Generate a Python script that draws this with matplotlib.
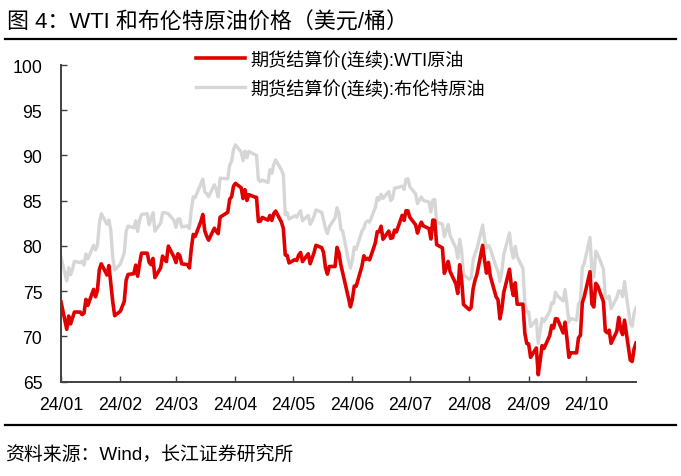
import pandas as pd
import matplotlib.pyplot as plt
import matplotlib.dates as mdates
from matplotlib.lines import Line2D

plt.rcParams['font.family'] = ['Liberation Sans', 'Noto Sans CJK SC', 'DejaVu Sans']

title = "图 4：WTI 和布伦特原油价格（美元/桶）"
source = "资料来源：Wind，长江证券研究所"
wti_label = "期货结算价(连续):WTI原油"
brent_label = "期货结算价(连续):布伦特原油"

# trading days 2024-01-05 .. 2024-10-31 (Good Friday closed)
dates = pd.bdate_range("2024-01-05", "2024-10-31")
dates = dates[dates != pd.Timestamp("2024-03-29")]

# one line per week, USD/bbl
wti = [
    73.81,
    70.77, 72.24, 71.37, 72.02, 72.68,
    72.68, 72.40, 72.56, 74.08, 73.41,
    75.19, 74.37, 75.09, 77.36, 78.01,
    76.78, 77.82, 75.85, 73.82, 72.28,
    72.78, 73.31, 73.86, 76.22, 76.84,
    76.92, 77.87, 76.64, 78.03, 79.19,
    79.19, 78.18, 77.91, 78.61, 76.49,
    77.58, 78.87, 78.54, 78.26, 79.97,
    78.74, 78.15, 79.13, 78.93, 78.01,
    77.93, 77.56, 79.72, 81.26, 81.04,
    82.72, 83.47, 81.68, 81.07, 80.63,
    81.95, 81.62, 81.35, 83.17,
    83.71, 85.15, 85.43, 86.59, 86.91,
    86.43, 85.23, 86.21, 85.02, 85.66,
    85.41, 85.36, 82.69, 82.73, 83.14,
    82.85, 83.36, 82.81, 83.57, 83.85,
    82.63, 81.93, 79.00, 78.95, 78.11,
    78.48, 78.38, 78.99, 79.26, 78.26,
    79.12, 78.02, 78.63, 79.23, 80.06,
    79.80, 79.26, 77.57, 76.87, 77.72,
    77.72, 79.83, 79.23, 77.91, 77.00,
    74.22, 73.25, 74.07, 75.55, 75.53,
    77.74, 78.90, 78.50, 78.62, 78.45,
    80.33, 81.57, 81.57, 82.17, 80.73,
    81.63, 80.83, 80.90, 81.74, 81.54,
    83.38, 82.81, 83.88, 83.88, 83.16,
    82.33, 81.41, 82.10, 82.62, 82.21,
    81.91, 80.76, 82.85, 82.82, 80.13,
    79.78, 76.96, 77.59, 78.28, 77.16,
    75.81, 74.73, 77.91, 76.31, 73.52,
    72.94, 73.20, 75.23, 76.19, 76.84,
    80.06, 78.35, 76.98, 78.16, 76.65,
    74.37, 74.04, 71.93, 73.01, 74.83,
    77.42, 75.53, 74.52, 75.91, 73.55,
    73.55, 70.34, 69.20, 69.15, 67.67,
    68.71, 65.75, 67.31, 68.97, 68.65,
    70.09, 71.19, 70.91, 71.95, 71.92,
    70.37, 71.56, 69.69, 67.67, 68.18,
    68.17, 69.83, 70.10, 73.71, 74.38,
    77.14, 73.57, 73.24, 75.85, 75.56,
    73.83, 70.58, 70.39, 70.67, 69.22,
    70.56, 72.09, 70.77, 70.19, 71.78,
    67.38, 67.21, 68.61, 69.26,
]

brent = [
    78.76,
    76.12, 77.59, 76.80, 77.41, 78.29,
    78.15, 78.29, 77.88, 79.10, 78.56,
    80.06, 79.55, 80.04, 82.43, 83.55,
    82.40, 82.87, 81.71, 78.70, 77.33,
    78.00, 78.59, 79.21, 81.63, 82.19,
    82.00, 82.77, 81.60, 82.86, 83.47,
    83.56, 82.34, 83.03, 83.67, 81.62,
    82.53, 83.65, 83.68, 83.62, 83.55,
    82.80, 82.04, 82.96, 82.96, 82.08,
    82.21, 81.92, 84.03, 85.42, 85.34,
    86.89, 87.38, 85.95, 85.78, 85.43,
    86.75, 86.25, 85.41, 87.48,
    87.42, 88.92, 89.35, 90.65, 91.17,
    90.38, 89.42, 90.48, 89.74, 90.45,
    90.10, 90.02, 87.29, 87.11, 87.29,
    87.00, 88.42, 88.02, 89.01, 89.50,
    88.40, 87.86, 83.44, 83.67, 82.96,
    83.33, 83.16, 83.58, 83.88, 82.79,
    83.36, 82.38, 82.75, 83.27, 83.98,
    83.71, 82.88, 81.90, 81.36, 82.12,
    83.10, 84.22, 83.60, 81.86, 81.62,
    78.36, 77.52, 78.41, 79.87, 79.62,
    81.63, 81.92, 82.60, 82.75, 82.62,
    84.25, 85.33, 85.07, 85.71, 85.24,
    86.01, 85.01, 85.25, 86.39, 86.41,
    86.60, 86.24, 87.34, 87.43, 86.54,
    85.75, 84.66, 85.08, 85.40, 85.03,
    84.85, 83.73, 85.08, 85.11, 82.63,
    82.40, 81.01, 81.71, 82.37, 81.13,
    79.78, 78.63, 80.72, 79.52, 76.81,
    76.30, 76.48, 78.33, 79.16, 79.66,
    82.30, 80.69, 79.76, 80.04, 79.68,
    77.66, 77.20, 76.05, 77.22, 79.02,
    81.43, 79.55, 78.65, 79.94, 78.80,
    77.52, 73.75, 72.70, 72.69, 71.06,
    71.84, 69.19, 70.61, 71.97, 71.61,
    72.75, 73.70, 73.65, 74.88, 74.49,
    73.90, 75.17, 73.46, 71.60, 71.98,
    71.77, 73.56, 73.90, 77.62, 78.05,
    80.93, 77.18, 76.58, 79.40, 79.04,
    77.46, 74.25, 74.22, 74.45, 73.06,
    74.29, 75.04, 74.96, 74.38, 76.05,
    71.42, 71.12, 72.55, 73.16,
]

W, H = 681, 477
fig = plt.figure(figsize=(W / 100, H / 100), dpi=100)
ax = fig.add_axes([61 / W, 1 - 382.5 / H, (636 - 61) / W, (382.5 - 66) / H])

l_brent, = ax.plot(dates, brent, color='#d6d6d6', lw=2.4, zorder=2,
                   solid_joinstyle='round')
l_wti, = ax.plot(dates, wti, color='#e00000', lw=2.6, zorder=3,
                 solid_joinstyle='round')

ax.set_xlim(dates[0], dates[-1])
ax.set_ylim(65, 100)
ax.set_yticks(range(65, 101, 5))
ax.xaxis.set_major_locator(mdates.MonthLocator(bymonthday=5))
ax.xaxis.set_major_formatter(mdates.DateFormatter('%y/%m'))

for s in ['top', 'right']:
    ax.spines[s].set_visible(False)
for s in ['left', 'bottom']:
    ax.spines[s].set_color('#404040')
    ax.spines[s].set_linewidth(1.4)

ax.tick_params(direction='in', length=4, width=1, color='#404040',
               labelsize=12.7, labelcolor='black')
ax.tick_params(axis='y', pad=13.5)
ax.tick_params(axis='x', pad=10.5)

ax.legend([l_wti, l_brent], [wti_label, brent_label],
          loc='upper left', bbox_to_anchor=(196 / W, 1 - 50 / H),
          bbox_transform=fig.transFigure, frameon=False,
          fontsize=13.1, handlelength=2.7, handletextpad=0.3,
          labelspacing=0.5, borderpad=0, borderaxespad=0)

fig.text(7 / W, 1 - 23 / H, title, fontsize=15.8, ha='left', va='center')
fig.add_artist(Line2D([5 / W, 676 / W], [1 - 39.5 / H] * 2,
                      color='black', lw=1.6))
fig.add_artist(Line2D([5 / W, 676 / W], [1 - 425.5 / H] * 2,
                      color='black', lw=1.6))
fig.text(5 / W, 1 - 455 / H, source, fontsize=13.6, ha='left', va='center')

fig.savefig('out.png', dpi=100)
